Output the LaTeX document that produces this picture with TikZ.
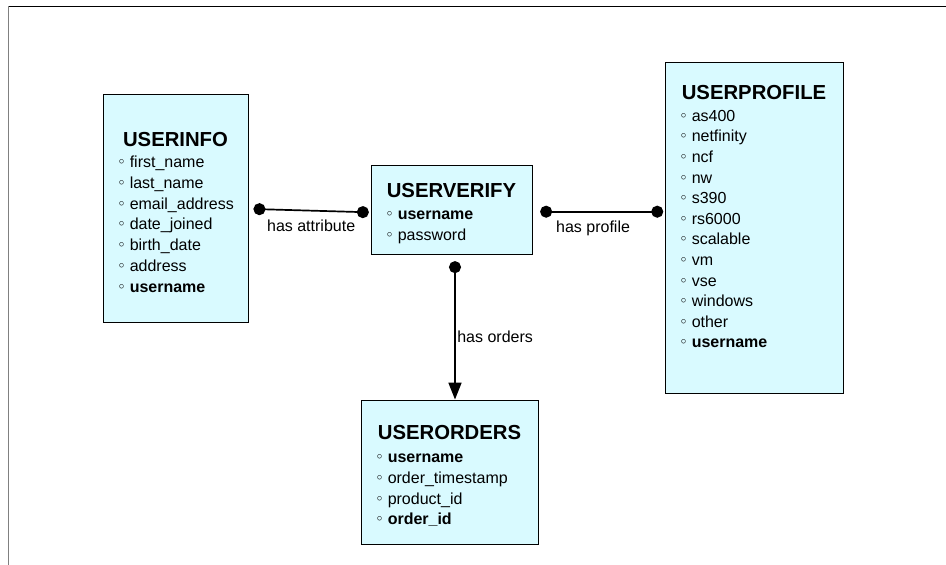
\documentclass[tikz,border=0pt]{standalone}
\usepackage{fontspec}
\setmainfont{Liberation Sans}
\usetikzlibrary{arrows.meta, calc}
\definecolor{tblfill}{RGB}{217,250,255}
\tikzset{tbl/.style={draw, line width=0.9pt, fill=tblfill, inner sep=0pt}}
\tikzset{tbltitle/.style={font=\fontsize{20.3}{20.3}\selectfont\bfseries, anchor=base, inner sep=0pt}}
\tikzset{fld/.style={font=\fontsize{16}{16}\selectfont, anchor=base west, inner sep=0pt}}
\tikzset{rel/.style={draw, line width=1.7pt, {Circle[length=12pt]}-{Circle[length=12pt]}}}
\tikzset{relarr/.style={draw, line width=1.7pt, {Circle[length=12pt]}-{Triangle[length=17pt, width=13pt]}}}
\tikzset{rlabel/.style={font=\fontsize{16}{16}\selectfont}}
\newcommand{\fdot}{\makebox[11pt][l]{\raisebox{3pt}{\fontsize{11}{11}\selectfont$\circ$}}}

\begin{document}
\begin{tikzpicture}[x=1pt, y=1pt]
	\useasboundingbox (0,0) rectangle (946,-565);
	% frame
	\draw[line width=0.9pt] (8,-6) -- (946,-6);
	\draw[gray, line width=1.3pt] (8.7,-6) -- (8.7,-565);
	%
	\node[tbl, minimum width=145pt, minimum height=228pt] (info) at (175.5,-208) {};
	\node[tbltitle] (infoT) at ([yshift=-52.7pt]info.north) {USERINFO};
	\foreach \f [count=\i from 0] in {first\_name, last\_name, email\_address, date\_joined, birth\_date, address, {\textbf{username}}}
		\node[fld] at ($(info.north west)+(16,{-74.3-20.7*\i})$) {\fdot\f};
	%
	\node[tbl, minimum width=161pt, minimum height=89pt] (verify) at (451.5,-209.5) {};
	\node[tbltitle] (verifyT) at ([yshift=-32.7pt]verify.north) {USERVERIFY};
	\foreach \f [count=\i from 0] in {{\textbf{username}}, password}
		\node[fld] at ($(verify.north west)+(16,{-55-20.7*\i})$) {\fdot\f};
	%
	\node[tbl, minimum width=178pt, minimum height=331pt] (profile) at (754,-227.5) {};
	\node[tbltitle] (profileT) at ([yshift=-38pt]profile.north) {USERPROFILE};
	\foreach \f [count=\i from 0] in {as400, netfinity, ncf, nw, s390, rs6000, scalable, vm, vse, windows, other, {\textbf{username}}}
		\node[fld] at ($(profile.north west)+(16,{-59.7-20.6*\i})$) {\fdot\f};
	%
	\node[tbl, minimum width=177pt, minimum height=144pt] (orders) at (449.5,-472) {};
	\node[tbltitle] (ordersT) at ([yshift=-40pt]orders.north) {USERORDERS};
	\foreach \f [count=\i from 0] in {{\textbf{username}}, order\_timestamp, product\_id, {\textbf{order\_id}}}
		\node[fld] at ($(orders.north west)+(16,{-63.3-20.7*\i})$) {\fdot\f};
	%
	\draw[rel] ([xshift=5pt, yshift=-1pt]info.east) --
		node[rlabel, below=5pt] {has attribute} ([xshift=-1.7pt, yshift=-2.8pt]verify.west);
	\draw[rel] ([xshift=7.7pt, yshift=-2.2pt]verify.east) --
		node[rlabel, pos=0.43, below=5pt] {has profile} ([xshift=-1.3pt, yshift=15.8pt]profile.west);
	\draw[relarr] ([xshift=3.5pt, yshift=-6.7pt]verify.south) --
		node[rlabel, pos=0.55, right=0pt, inner sep=1.5pt] {has orders} ([xshift=5.5pt]orders.north);
\end{tikzpicture}
\end{document}
